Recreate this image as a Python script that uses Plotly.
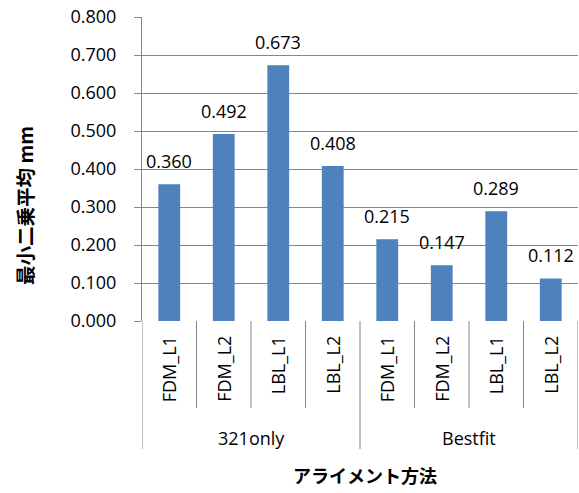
import plotly.graph_objects as go

# Data
groups = ["321only", "Bestfit"]
methods = ["FDM_L1", "FDM_L2", "LBL_L1", "LBL_L2"]
values = [0.360, 0.492, 0.673, 0.408, 0.215, 0.147, 0.289, 0.112]
y_ticks = [0.0, 0.1, 0.2, 0.3, 0.4, 0.5, 0.6, 0.7, 0.8]

W, H = 579, 493
L, R, T, B = 142, 1, 17, 172
plot_w = W - L - R
plot_h = H - T - B

FONT = "Open Sans"
JP_FONT = "Noto Sans CJK JP"
GRID = "#868686"
BAR = "#4F81BD"

n = len(values)
xs = list(range(n))

fig = go.Figure()
fig.add_trace(go.Bar(
    x=xs, y=values, width=0.4,
    marker=dict(color=BAR, line=dict(width=0)),
    showlegend=False,
))

# value labels above bars
for x, v in zip(xs, values):
    fig.add_annotation(
        x=x, y=v, xref="x", yref="y", text=f"{v:.3f}",
        showarrow=False, yanchor="bottom", yshift=9,
        font=dict(family=FONT, size=18, color="black"),
    )

def py(px):
    """pixel offset below the plot bottom -> paper y"""
    return -px / plot_h

def fig_to_paper(px, pyy):
    return (px - L) / plot_w, (H - B - pyy) / plot_h

# category labels (rotated) and separators
labels = [m for g in groups for m in methods]
for x, lab in zip(xs, labels):
    fig.add_annotation(
        x=x, y=py(13), xref="x", yref="paper", text=lab, textangle=-90,
        showarrow=False, yanchor="top", xanchor="center",
        font=dict(family=FONT, size=18, color="black"),
    )

for i in range(n + 1):
    outer = i % len(methods) == 0
    fig.add_shape(
        type="line", xref="x", yref="paper",
        x0=i - 0.5, x1=i - 0.5, y0=0, y1=py(128 if outer else 87),
        line=dict(color=GRID, width=1),
    )

for gi, g in enumerate(groups):
    cx = gi * len(methods) + (len(methods) - 1) / 2
    fig.add_annotation(
        x=cx, y=py(117), xref="x", yref="paper", text=g,
        showarrow=False, yanchor="middle",
        font=dict(family=FONT, size=18, color="black"),
    )

# axis titles
tx, ty = fig_to_paper(365, 475)
fig.add_annotation(
    x=tx, y=ty, xref="paper", yref="paper",
    text="<b>アライメント方法</b>", showarrow=False,
    xanchor="center", yanchor="middle",
    font=dict(family=JP_FONT, size=18, color="black"),
)
tx, ty = fig_to_paper(24, 206)
fig.add_annotation(
    x=tx, y=ty, xref="paper", yref="paper",
    text="<b>最小二乗平均 mm</b>", showarrow=False, textangle=-90,
    xanchor="center", yanchor="middle",
    font=dict(family=JP_FONT, size=19.5, color="black"),
)

fig.update_xaxes(
    range=[-0.5, n - 0.5], showticklabels=False, ticks="",
    showgrid=False, zeroline=False, showline=False, fixedrange=True,
)
fig.update_yaxes(
    range=[0, 0.8], tickvals=y_ticks, tickformat=".3f",
    ticks="outside", ticklen=7, tickcolor=GRID,
    showline=True, linecolor=GRID, linewidth=1,
    showgrid=True, gridcolor=GRID, gridwidth=1, zeroline=False,
    tickfont=dict(family=FONT, size=18, color="black"),
    ticklabelstandoff=14,
)

fig.update_layout(
    width=W, height=H, autosize=False,
    margin=dict(l=L, r=R, t=T, b=B),
    paper_bgcolor="white", plot_bgcolor="white",
    bargap=0.6,
)

fig.write_html("out.html")
